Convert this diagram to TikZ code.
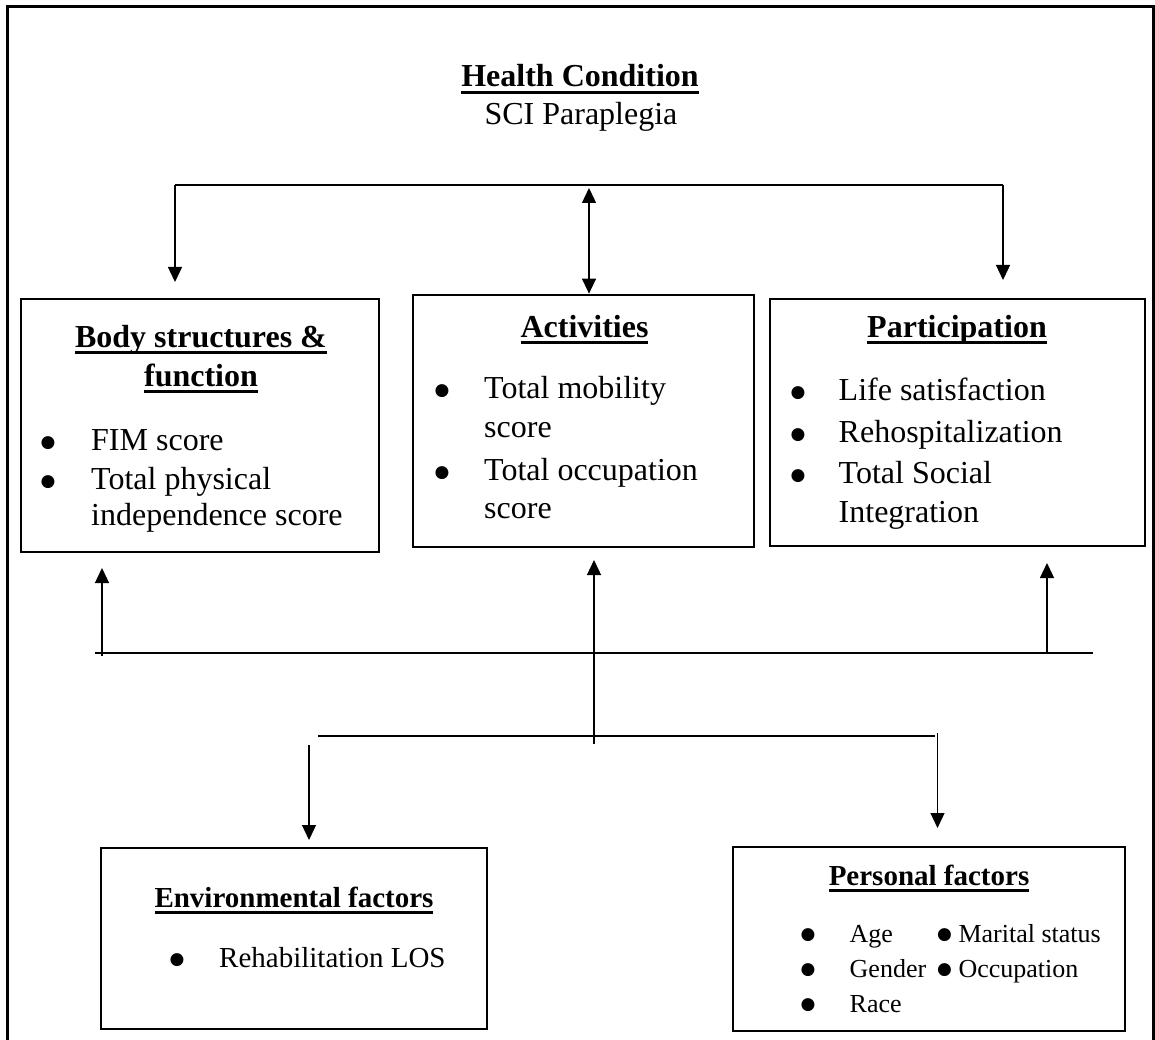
\documentclass[tikz,border=0pt]{standalone}
\usepackage{fontspec}
\setmainfont{Liberation Serif}
\newfontfamily\bulfont{DejaVu Sans}
\usetikzlibrary{arrows.meta}
\newcommand\myul[1]{\setbox0=\hbox{#1}\rlap{\rule[-6.8pt]{\wd0}{2.6pt}}\box0}
\newcommand\bul{\raisebox{2.6pt}{\bulfont\fontsize{17}{17}\selectfont ●}}
\begin{document}
\begin{tikzpicture}[x=1pt,y=-1pt,
  boxnode/.style={draw, line width=2.7pt, inner sep=0, minimum width=#1},
  txt/.style={inner sep=0, font=\fontsize{32}{37}\selectfont},
  txtm/.style={inner sep=0, font=\fontsize{29}{34}\selectfont},
  txts/.style={inner sep=0, font=\fontsize{26}{30}\selectfont},
  conn/.style={line width=1.3pt},
  arr/.style={line width=1.3pt, -{Triangle[length=15pt,width=14pt]}},
  darr/.style={line width=1.3pt, {Triangle[length=15pt,width=14pt]}-{Triangle[length=15pt,width=14pt]}}
]
\useasboundingbox (0,0) rectangle (1155,1040);
\clip (0,0) rectangle (1155,1040);
% outer frame
\draw[line width=3pt] (7,1050) -- (7,7) -- (1153,7) -- (1153,1050);

% boxes
\node[boxnode=358pt, minimum height=253pt] (body) at (200,425.5) {};
\node[boxnode=341pt, minimum height=252pt] (act) at (583.5,421) {};
\node[boxnode=375pt, minimum height=247pt] (part) at (957.5,422.5) {};
\node[boxnode=386pt, minimum height=181pt] (env) at (294,938.5) {};
\node[boxnode=392pt, minimum height=184pt] (pers) at (929,939) {};

% health condition
\node[txt, anchor=base, font=\fontsize{32}{37}\selectfont\bfseries] (hc) at (580,87) {\myul{Health Condition}};
\node[txt, anchor=base] (sci) at (581,125) {SCI Paraplegia};

% body
\node[txt, anchor=base, font=\fontsize{32}{37}\selectfont\bfseries] (bt1) at (201,347) {\myul{Body structures \&}};
\node[txt, anchor=base, font=\fontsize{32}{37}\selectfont\bfseries] (bt2) at (201,386) {\myul{function}};
\node[txt, anchor=base] (bb1) at (48,450) {\bul};
\node[txt, anchor=base west] (bx1) at (91,450) {FIM score};
\node[txt, anchor=base] (bb2) at (48,489) {\bul};
\node[txt, anchor=base west] (bx2) at (91,489) {Total physical};
\node[txt, anchor=base west] (bx3) at (91,525) {independence score};

% activities
\node[txt, anchor=base, font=\fontsize{32}{37}\selectfont\bfseries] (at1) at (584.5,337) {\myul{Activities}};
\node[txt, anchor=base] (ab1) at (442,398) {\bul};
\node[txt, anchor=base west] (ax1) at (484,398) {Total mobility};
\node[txt, anchor=base west] (ax2) at (484,437) {score};
\node[txt, anchor=base] (ab2) at (442,480) {\bul};
\node[txt, anchor=base west] (ax3) at (484,480) {Total occupation};
\node[txt, anchor=base west] (ax4) at (484,518) {score};

% participation
\node[txt, anchor=base, font=\fontsize{32}{37}\selectfont\bfseries] (pt1) at (957,337) {\myul{Participation}};
\node[txt, anchor=base] (pb1) at (798,400) {\bul};
\node[txt, anchor=base west] (px1) at (838.5,400) {Life satisfaction};
\node[txt, anchor=base] (pb2) at (798,442) {\bul};
\node[txt, anchor=base west] (px2) at (838.5,442) {Rehospitalization};
\node[txt, anchor=base] (pb3) at (798,483) {\bul};
\node[txt, anchor=base west] (px3) at (838.5,483) {Total Social};
\node[txt, anchor=base west] (px4) at (838.5,522) {Integration};

% environmental
\node[txtm, anchor=base, font=\fontsize{29}{34}\selectfont\bfseries] (et1) at (294,907) {\myul{Environmental factors}};
\node[txtm, anchor=base] (eb1) at (177,967) {\bul};
\node[txtm, anchor=base west] (ex1) at (219,967) {Rehabilitation LOS};

% personal
\node[txtm, anchor=base, font=\fontsize{29}{34}\selectfont\bfseries] (ft1) at (929,885) {\myul{Personal factors}};
\node[txts, anchor=base] (fb1) at (808,942) {\bul};
\node[txts, anchor=base west] (fx1) at (849.5,942) {Age};
\node[txts, anchor=base] (fb2) at (808,977) {\bul};
\node[txts, anchor=base west] (fx2) at (849.5,977) {Gender};
\node[txts, anchor=base] (fb3) at (808,1012) {\bul};
\node[txts, anchor=base west] (fx3) at (849.5,1012) {Race};
\node[txts, anchor=base west] (fy1) at (937,942) {\bul\ Marital status};
\node[txts, anchor=base west] (fy2) at (937,977) {\bul\ Occupation};

% top connectors
\coordinate (tl) at (175,185);
\coordinate (tr) at (1003,185);
\coordinate (tlend) at (175,282);
\coordinate (trend) at (1003,280);
\coordinate (tm) at (589,188);
\draw[conn] (tl) -- (tr);
\draw[arr] (tl) -- (tlend);
\draw[arr] (tr) -- (trend);
\draw[darr] (tm) -- (tm |- act.north);

% middle connectors
\coordinate (ml) at (95,653);
\coordinate (mr) at (1093,653);
\draw[conn] (ml) -- (mr);
\coordinate (u1s) at (102,656);
\coordinate (u1e) at (102,568);
\coordinate (u2s) at (594,744);
\coordinate (u2e) at (594,560);
\coordinate (u3s) at (1047,653);
\coordinate (u3e) at (1047,563);
\draw[arr] (u1s) -- (u1e);
\draw[arr] (u2s) -- (u2e);
\draw[arr] (u3s) -- (u3e);

% lower connectors
\coordinate (ll) at (318,736);
\coordinate (lr) at (935,736);
\draw[conn] (ll) -- (lr);
\coordinate (d1s) at (309,745);
\coordinate (d1e) at (309,840);
\coordinate (d2s) at (937.5,733);
\coordinate (d2e) at (937.5,828);
\draw[arr] (d1s) -- (d1e);
\draw[arr] (d2s) -- (d2e);
\end{tikzpicture}
\end{document}
